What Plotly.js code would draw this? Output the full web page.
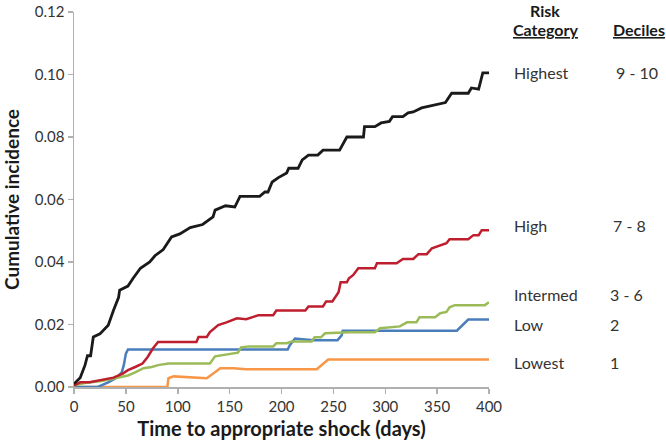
<!DOCTYPE html>
<html>
<head>
<meta charset="utf-8">
<script src="https://cdn.plot.ly/plotly-3.0.1.min.js"></script>
<style>html,body{margin:0;padding:0;background:#fff;}#chart{width:666px;height:440px;}</style>
</head>
<body>
<div id="chart"></div>
<script>
// Highest risk (deciles 9-10)
var highestDays = [0, 6, 10.6, 13, 16, 18.6, 25, 33, 38, 43, 44, 52, 57, 64, 73, 78, 86, 94, 102, 112, 124, 134, 136, 146, 155, 160, 179, 184, 187, 191, 197, 205, 207, 216, 220, 226, 235, 240, 256, 260, 263, 279, 280, 290, 296, 304, 307, 317, 322, 327, 335, 358, 364, 380, 383, 390, 394, 400];
var highestVals = [0.001, 0.003, 0.007, 0.010, 0.010, 0.016, 0.017, 0.0198, 0.0245, 0.0287, 0.031, 0.0323, 0.0348, 0.038, 0.040, 0.042, 0.044, 0.048, 0.049, 0.051, 0.052, 0.0544, 0.0566, 0.058, 0.0576, 0.061, 0.061, 0.0624, 0.0624, 0.0656, 0.067, 0.0685, 0.070, 0.070, 0.0727, 0.0742, 0.0742, 0.0758, 0.0758, 0.078, 0.080, 0.080, 0.0833, 0.0833, 0.0845, 0.085, 0.0865, 0.0865, 0.0877, 0.088, 0.0893, 0.091, 0.094, 0.094, 0.0957, 0.0953, 0.1005, 0.1005];

// High risk (deciles 7-8)
var highDays = [0, 6, 15, 28, 38, 47, 52, 59, 66, 71, 76, 81, 93, 118, 120, 128, 131, 139, 147, 157, 166, 178, 192, 195, 223, 226, 240, 243, 249, 252, 255, 257, 263, 265, 269, 274, 290, 292, 311, 317, 327, 332, 340, 345, 353, 359, 362, 380, 385, 390, 393, 400];
var highVals = [0.0005, 0.0015, 0.0015, 0.0024, 0.003, 0.0043, 0.0054, 0.0064, 0.0075, 0.0096, 0.0123, 0.0144, 0.0144, 0.0144, 0.016, 0.016, 0.0176, 0.0198, 0.0207, 0.022, 0.0217, 0.023, 0.023, 0.0245, 0.0245, 0.0258, 0.0258, 0.0274, 0.0274, 0.029, 0.0303, 0.0335, 0.0335, 0.0348, 0.0358, 0.038, 0.038, 0.0396, 0.0396, 0.041, 0.041, 0.0425, 0.0425, 0.0444, 0.0454, 0.046, 0.0473, 0.0473, 0.0486, 0.0486, 0.0502, 0.0502];

// Intermediate risk (deciles 3-6)
var intermedDays = [0, 9, 28, 44, 52, 59, 67, 75, 81, 91, 131, 136, 142, 158, 161, 169, 192, 195, 205, 210, 229, 232, 238, 242, 266, 290, 295, 314, 321, 330, 333, 348, 353, 359, 362, 367, 396, 399, 400];
var intermedVals = [0.0005, 0.0012, 0.002, 0.003, 0.0037, 0.0047, 0.006, 0.0064, 0.007, 0.0075, 0.0075, 0.0098, 0.0101, 0.011, 0.0127, 0.013, 0.013, 0.014, 0.014, 0.0146, 0.0146, 0.0159, 0.0159, 0.0172, 0.0175, 0.0175, 0.0188, 0.0194, 0.0207, 0.0207, 0.0223, 0.0223, 0.0236, 0.024, 0.0255, 0.0262, 0.0262, 0.0271, 0.0271];

// Low risk (decile 2)
var lowDays = [0, 23, 33, 41, 46, 48, 50, 52, 206, 208, 213, 231, 254, 258, 259, 369, 380, 400];
var lowVals = [0, 0, 0.0015, 0.003, 0.0047, 0.007, 0.0107, 0.012, 0.012, 0.0134, 0.0155, 0.015, 0.015, 0.0165, 0.018, 0.018, 0.0216, 0.0216];

// Lowest risk (decile 1)
var lowestDays = [0, 90, 91, 96, 128, 134, 141, 154, 166, 234, 239, 245, 400];
var lowestVals = [0, 0, 0.0028, 0.0034, 0.0028, 0.0044, 0.006, 0.006, 0.0057, 0.0057, 0.007, 0.0088, 0.0088];

var categoryLabels = ['Highest', 'High', 'Intermed', 'Low', 'Lowest'];
var decileLabels = ['9 - 10', '7 - 8', '3 - 6', '2', '1'];
var labelYValues = [0.1005, 0.0518, 0.0297, 0.0201, 0.0077];

var xTickVals = [0, 50, 100, 150, 200, 250, 300, 350, 400];
var yTickVals = [0, 0.02, 0.04, 0.06, 0.08, 0.10, 0.12];

var font = 'Lato, "Open Sans", sans-serif';
var colors = ['#1a1a1a', '#be1e2d', '#9bbb59', '#4a7ebb', '#f79646'];
var seriesX = [highestDays, highDays, intermedDays, lowDays, lowestDays];
var seriesY = [highestVals, highVals, intermedVals, lowVals, lowestVals];
var widths = [2.8, 2.5, 2.5, 2.5, 2.5];

var traces = [];
for (var i = seriesX.length - 1; i >= 0; i--) {
  traces.push({
    x: seriesX[i], y: seriesY[i], type: 'scatter', mode: 'lines',
    name: categoryLabels[i],
    line: {color: colors[i], width: widths[i], shape: 'linear'},
    hoverinfo: 'skip'
  });
}

var annotations = [
  {text: '<b>Risk</b>', xref: 'paper', yref: 'paper', x: 1.135, y: 1.004, xanchor: 'center', yanchor: 'middle', showarrow: false, font: {family: font, size: 16, color: '#1a1a1a'}},
  {text: '<b><u>Category</u></b>', xref: 'paper', yref: 'paper', x: 1.135, y: 0.953, xanchor: 'center', yanchor: 'middle', showarrow: false, font: {family: font, size: 16, color: '#1a1a1a'}},
  {text: '<b><u>Deciles</u></b>', xref: 'paper', yref: 'paper', x: 1.295, y: 0.953, xanchor: 'left', yanchor: 'middle', showarrow: false, font: {family: font, size: 16, color: '#1a1a1a'}}
];
var decileX = [1.302, 1.294, 1.287, 1.287, 1.287];
for (var k = 0; k < categoryLabels.length; k++) {
  annotations.push({text: categoryLabels[k], xref: 'paper', yref: 'y', x: 1.055, y: labelYValues[k], xanchor: 'left', yanchor: 'middle', showarrow: false, font: {family: font, size: 16, color: '#333'}});
  annotations.push({text: decileLabels[k], xref: 'paper', yref: 'y', x: decileX[k], y: labelYValues[k], xanchor: 'left', yanchor: 'middle', showarrow: false, font: {family: font, size: 16, color: '#333'}});
}

var layout = {
  width: 666, height: 440,
  margin: {l: 74, r: 177, t: 12, b: 53},
  paper_bgcolor: '#fff', plot_bgcolor: '#fff',
  showlegend: false,
  font: {family: font, color: '#333', size: 13},
  xaxis: {
    range: [0, 400], tickvals: xTickVals, ticktext: xTickVals.map(String),
    showgrid: false, zeroline: false, showline: true, linecolor: '#b0b0b0', linewidth: 1.5,
    ticks: 'outside', ticklen: 5, tickcolor: '#b0b0b0', tickwidth: 1.5,
    tickfont: {family: font, size: 15, color: '#333'},
    title: {text: '<b>Time to appropriate shock (days)</b>', font: {family: font, size: 20, color: '#1a1a1a'}, standoff: 10}
  },
  yaxis: {
    range: [0, 0.12], tickvals: yTickVals, ticktext: yTickVals.map(function(v){return v.toFixed(2);}),
    showgrid: false, zeroline: false, showline: true, linecolor: '#b0b0b0', linewidth: 1.5,
    ticks: 'outside', ticklen: 5, tickcolor: '#b0b0b0', tickwidth: 1.5,
    tickfont: {family: font, size: 15, color: '#333'},
    title: {text: '<b>Cumulative incidence</b>', font: {family: font, size: 19, color: '#1a1a1a'}, standoff: 10}
  },
  annotations: annotations
};

Plotly.newPlot('chart', traces, layout, {staticPlot: true, displayModeBar: false});
</script>
</body>
</html>
